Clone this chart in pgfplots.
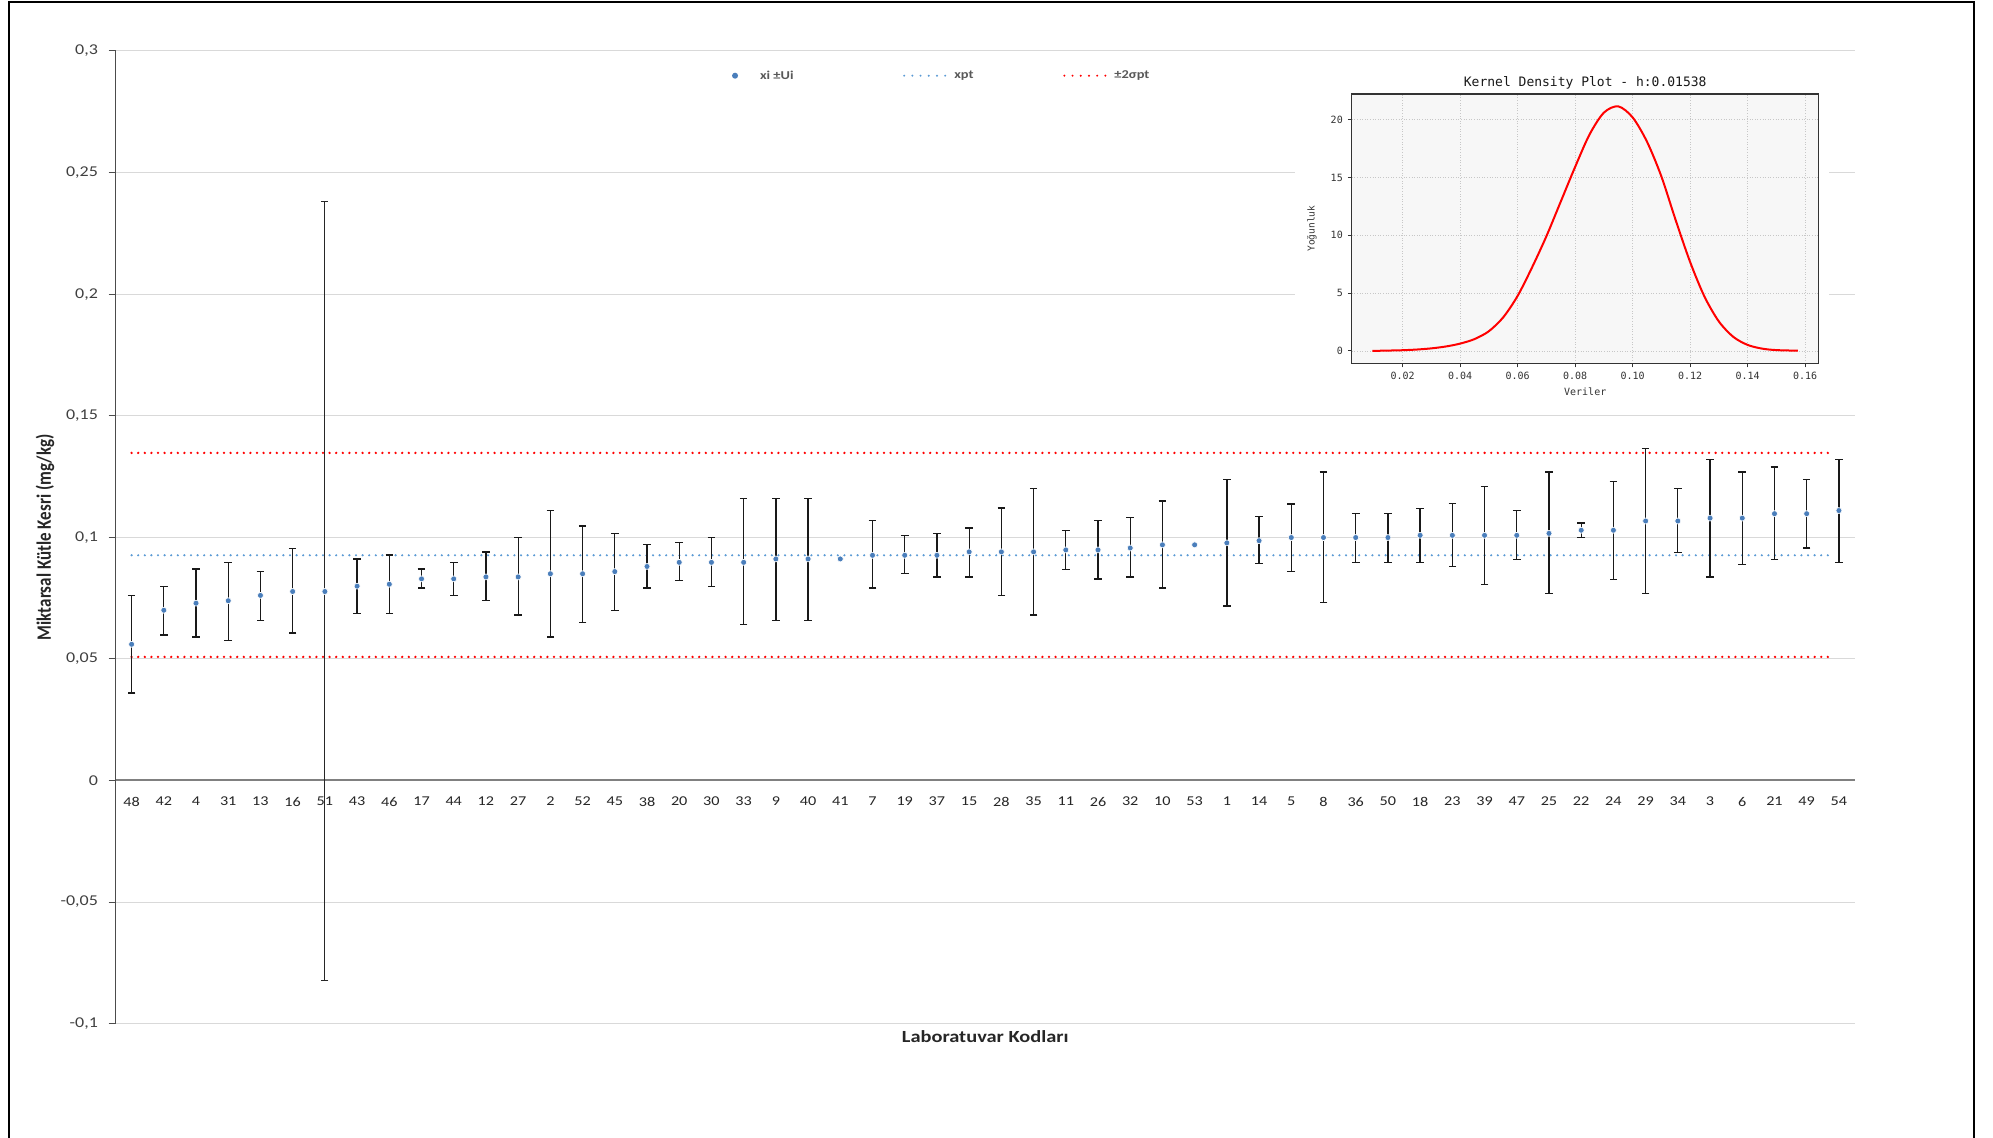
\documentclass[border=0pt]{standalone}
\usepackage{fontspec}
\setmainfont{Carlito}[FakeStretch=1.2]
\newfontfamily\carlitoN{Carlito}
\newfontfamily\monofont{DejaVu Sans Mono}
\usepackage{graphicx}
\usepackage{pgfplots}
\pgfplotsset{compat=1.18}
\usepackage{pgfplotstable}
\definecolor{ptblue}{RGB}{74,126,187}
\definecolor{xptblue}{RGB}{91,155,213}
\definecolor{gridgray}{RGB}{217,217,217}
\definecolor{txtgray}{RGB}{89,89,89}

\pgfplotstableread{
i v top bot
0 0.0560 0.0761 0.0360
1 0.0700 0.0799 0.0598
2 0.0729 0.0869 0.0590
3 0.0739 0.0897 0.0576
4 0.0761 0.0859 0.0658
5 0.0777 0.0953 0.0607
6 0.0777 0.2381 -0.0821
7 0.0799 0.0911 0.0688
8 0.0807 0.0927 0.0688
9 0.0829 0.0869 0.0791
10 0.0829 0.0897 0.0761
11 0.0837 0.0940 0.0739
12 0.0837 0.1000 0.0680
13 0.0850 0.1111 0.0590
14 0.0850 0.1047 0.0650
15 0.0859 0.1016 0.0700
16 0.0880 0.0970 0.0791
17 0.0897 0.0979 0.0821
18 0.0897 0.1000 0.0799
19 0.0897 0.1159 0.0642
20 0.0911 0.1159 0.0658
21 0.0911 0.1159 0.0658
22 0.0911 0.0911 0.0911
23 0.0926 0.1068 0.0791
24 0.0926 0.1008 0.0850
25 0.0926 0.1016 0.0837
26 0.0940 0.1038 0.0837
27 0.0940 0.1120 0.0761
28 0.0940 0.1201 0.0680
29 0.0948 0.1029 0.0867
30 0.0948 0.1068 0.0829
31 0.0956 0.1082 0.0837
32 0.0969 0.1149 0.0791
33 0.0969 0.0969 0.0969
34 0.0977 0.1238 0.0718
35 0.0986 0.1085 0.0892
36 0.0999 0.1137 0.0858
37 0.0999 0.1268 0.0731
38 0.0999 0.1098 0.0897
39 0.0999 0.1098 0.0897
40 0.1008 0.1119 0.0897
41 0.1008 0.1140 0.0879
42 0.1008 0.1208 0.0807
43 0.1008 0.1111 0.0910
44 0.1016 0.1268 0.0768
45 0.1029 0.1059 0.1000
46 0.1029 0.1230 0.0827
47 0.1067 0.1366 0.0768
48 0.1067 0.1200 0.0938
49 0.1079 0.1319 0.0837
50 0.1079 0.1268 0.0888
51 0.1097 0.1289 0.0910
52 0.1097 0.1238 0.0956
53 0.1110 0.1319 0.0897
}\labdata

\pgfplotstableread{
x y
0.0095 0.00
0.015 0.03
0.020 0.06
0.025 0.12
0.030 0.22
0.035 0.38
0.040 0.63
0.045 1.02
0.050 1.70
0.055 2.90
0.060 4.75
0.065 7.20
0.070 9.90
0.075 12.90
0.080 15.90
0.085 18.70
0.090 20.60
0.095 21.15
0.100 20.20
0.105 18.10
0.110 15.10
0.115 11.30
0.120 7.70
0.125 4.70
0.130 2.55
0.135 1.22
0.140 0.52
0.145 0.20
0.150 0.07
0.1575 0.02
}\kdedata

\begin{document}
\begin{tikzpicture}[x=1pt,y=1pt]
\path[use as bounding box, fill=white] (0,0) rectangle (1993,1137);
\draw[line width=2pt, black] (9,-3) -- (9,1135) -- (1974,1135) -- (1974,-3);

\begin{axis}[
  at={(115.5pt,113.4pt)}, anchor=south west, scale only axis,
  width=1739.5pt, height=972.6pt,
  xmin=-0.5, xmax=53.5, ymin=-0.1, ymax=0.3,
  axis x line*=middle, axis y line*=left,
  hide obscured x ticks=false, hide obscured y ticks=false,
  x axis line style={black!50, line width=2pt},
  y axis line style={black!70, line width=1.2pt},
  xtick={0,...,53},
  xticklabels={48,42,4,31,13,16,51,43,46,17,44,12,27,2,52,45,38,20,30,33,9,40,41,7,19,37,15,28,35,11,26,32,10,53,1,14,5,8,36,50,18,23,39,47,25,22,24,29,34,3,6,21,49,54},
  xtick style={draw=none},
  xticklabel style={font=\fontsize{13.5}{16}\selectfont, text=black!85, yshift=-6pt},
  ytick={-0.1,-0.05,0,0.05,0.1,0.15,0.2,0.25,0.3},
  yticklabels={{-0,1},{-0,05},{0},{0,05},{0,1},{0,15},{0,2},{0,25},{0,3}},
  yticklabel style={font=\fontsize{15}{18}\selectfont, text=black!75, xshift=-7pt},
  ytick style={draw=black!70, line width=1pt},
  tick align=outside, major tick length=7pt,
  ymajorgrids, grid style={gridgray, line width=1pt},
  clip=false,
  legend columns=3, legend cell align=left,
  legend style={at={(axis description cs:0.3487,0.9746)}, anchor=west,
    draw=none, fill=none, inner sep=0pt, outer sep=0pt,
    font=\bfseries\fontsize{12}{14}\selectfont, text=txtgray,
    nodes={inner sep=0pt},
    /tikz/every odd column/.append style={column sep=8pt},
    /tikz/every even column/.append style={column sep=0pt}},
]
\addlegendimage{draw=none, legend image code/.code={\path[draw=none] (0pt,0pt) -- (30pt,0pt); \fill[ptblue, draw=none] (13pt,0pt) circle (3pt);}}
\addlegendentry{\makebox[143pt][l]{xi ±Ui}}
\addlegendimage{draw=none, legend image code/.code={\draw[xptblue, line width=2.2pt, line cap=round, dash pattern=on 0pt off 8.2pt] (1pt,0pt) -- (42pt,0pt);}}
\addlegendentry{\makebox[109pt][l]{xpt}}
\addlegendimage{draw=none, legend image code/.code={\draw[red, line width=2.2pt, line cap=round, dash pattern=on 0pt off 8.2pt] (1pt,0pt) -- (42pt,0pt);}}
\addlegendentry{±2σpt}

% reference lines
\addplot[red, line width=2.6pt, line cap=round, dash pattern=on 0pt off 6.6pt, forget plot] coordinates {(0,0.1347) (52.85,0.1347)};
\addplot[red, line width=2.6pt, line cap=round, dash pattern=on 0pt off 6.6pt, forget plot] coordinates {(0,0.0508) (52.85,0.0508)};
\addplot[xptblue, line width=2.4pt, line cap=round, dash pattern=on 0pt off 6.6pt, forget plot] coordinates {(0,0.0926) (52.85,0.0926)};

% error bars (all except 51, 41, 53)
\addplot[black, only marks, mark=none, forget plot,
  skip coords between index={6}{7}, skip coords between index={22}{23}, skip coords between index={33}{34},
  error bars/.cd, y dir=both, y explicit,
  error bar style={line width=1.3pt, black!90},
  error mark options={rotate=90, mark size=3.8pt, line width=1.3pt, black!90}]
  table[x=i, y=v, y error plus expr=\thisrow{top}-\thisrow{v}, y error minus expr=\thisrow{v}-\thisrow{bot}] {\labdata};
% error bar of lab 51 (thin)
\addplot[black, only marks, mark=none, forget plot,
  skip coords between index={0}{6}, skip coords between index={7}{54},
  error bars/.cd, y dir=both, y explicit,
  error bar style={line width=0.9pt, black!85},
  error mark options={rotate=90, mark size=3.5pt, line width=0.9pt, black!85}]
  table[x=i, y=v, y error plus expr=\thisrow{top}-\thisrow{v}, y error minus expr=\thisrow{v}-\thisrow{bot}] {\labdata};
% points
\addplot[only marks, mark=*, mark size=3pt, mark options={fill=ptblue, draw=white, line width=0.6pt}, forget plot]
  table[x=i, y=v] {\labdata};

\node[rotate=90, font=\carlitoN\bfseries\fontsize{17}{20}\selectfont, text=black!85] at (axis description cs:-0.0405,0.5) {\scalebox{1}[1.2]{Miktarsal Kütle Kesri (mg/kg)}};
\node[font=\bfseries\fontsize{17}{20}\selectfont, text=black!85] at (axis description cs:0.5,-0.0138) {Laboratuvar Kodları};
\end{axis}

\fill[white] (1295,732) rectangle (1829,1082);

\begin{axis}[
  at={(1351.8pt,773.7pt)}, anchor=south west, scale only axis,
  width=466.8pt, height=269.3pt,
  xmin=0.00236, xmax=0.1647, ymin=-1.07, ymax=22.22,
  clip mode=individual,
  axis background/.style={fill=black!3},
  axis line style={black!80, line width=1.3pt},
  tick pos=left, tick align=outside, major tick length=4pt,
  tick style={black!80, line width=0.9pt},
  xtick={0.02,0.04,0.06,0.08,0.10,0.12,0.14,0.16},
  xticklabels={0.02,0.04,0.06,0.08,0.10,0.12,0.14,0.16},
  ytick={0,5,10,15,20}, yticklabels={0,5,10,15,20},
  tick label style={font=\monofont\fontsize{10}{12}\selectfont, text=black!80},
  yticklabel style={xshift=-1.5pt},
  xticklabel style={yshift=-1pt},
  grid=major, grid style={black!22, line width=0.6pt, dotted},
]
\addplot[red, line width=2pt, smooth] table[x=x, y=y] {\kdedata};
\node[anchor=base, font=\monofont\fontsize{13}{15}\selectfont, text=black!90, yshift=7pt] at (axis description cs:0.5,1) {Kernel Density Plot - h:0.01538};
\node[font=\monofont\fontsize{10}{12}\selectfont, text=black!80] at (axis description cs:0.5,-0.105) {Veriler};
\node[rotate=90, font=\monofont\fontsize{9.5}{11}\selectfont, text=black!80] at (axis description cs:-0.0857,0.5) {Yoğunluk};
\end{axis}
\end{tikzpicture}
\end{document}
